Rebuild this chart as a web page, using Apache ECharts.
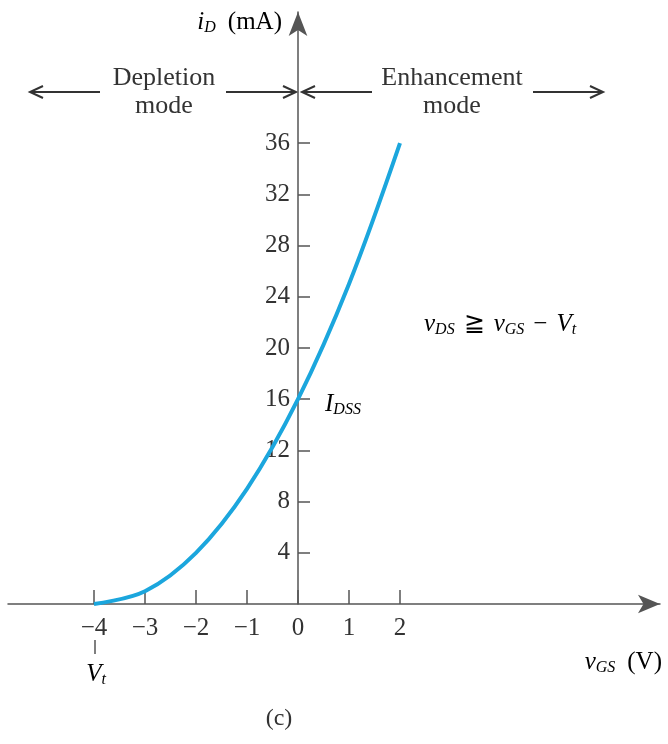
<!DOCTYPE html>
<html>
<head>
<meta charset="utf-8">
<script src="https://cdn.jsdelivr.net/npm/echarts@6/dist/echarts.min.js"></script>
<style>
  html, body { margin: 0; padding: 0; background: #fff; }
  #chart { width: 668px; height: 744px; }
</style>
</head>
<body>
<div id="chart"></div>
<script>
var chartDom = document.getElementById('chart');
var chart = echarts.init(chartDom);

// values
var vgs = [-4, -3, -2, -1, 0, 1, 2];
var iD = [0, 1, 4, 9, 16, 25, 36];
var xTicks = [-4, -3, -2, -1, 0, 1, 2];
var yTicks = [4, 8, 12, 16, 20, 24, 28, 32, 36];

var serif = '"Liberation Serif", "DejaVu Serif", serif';
var txt = '#333';
var axisCol = '#555';

// open chevron arrow, used for the mode annotations
function arrow(x1, x2, y, dir) {
  var tip = dir > 0 ? x2 : x1;
  return [
    { type: 'line', shape: { x1: x1, y1: y, x2: x2, y2: y }, style: { stroke: '#333', lineWidth: 2 } },
    { type: 'polyline', shape: { points: [[tip - dir * 13, y - 6], [tip, y], [tip - dir * 13, y + 6]] },
      style: { stroke: '#333', lineWidth: 2, fill: null } }
  ];
}

var rich = {
  it: { fontFamily: serif, fontStyle: 'italic', fontSize: 25, color: txt },
  n: { fontFamily: serif, fontSize: 25, color: txt },
  sp: { fontSize: 25, width: 12 },
  sp2: { fontSize: 25, width: 9 },
  sub: { fontFamily: serif, fontStyle: 'italic', fontSize: 16, color: txt, padding: [11, 0, 0, 0] }
};

var option = {
  animation: false,
  grid: { left: 8, right: 8, top: 12, bottom: 140, containLabel: false, outerBoundsMode: 'none' },
  xAxis: {
    type: 'value',
    min: -5.686,
    max: 7.098,
    axisLine: {
      onZero: true,
      symbol: ['none', 'arrow'],
      symbolSize: [14, 22],
      lineStyle: { color: axisCol, width: 1.5 }
    },
    axisTick: { show: true, inside: true, length: 14, customValues: xTicks, lineStyle: { color: axisCol, width: 1.5 } },
    axisLabel: {
      customValues: xTicks,
      margin: 12,
      fontFamily: serif,
      fontSize: 25,
      color: txt,
      formatter: function (v) { return String(v).replace('-', '\u2212'); }
    },
    splitLine: { show: false }
  },
  yAxis: {
    type: 'value',
    min: 0,
    max: 46.25,
    offset: -290,
    axisLine: {
      show: true,
      onZero: false,
      symbol: ['none', 'arrow'],
      symbolSize: [14, 24],
      lineStyle: { color: axisCol, width: 1.5 }
    },
    axisTick: { show: true, inside: true, length: 12, customValues: yTicks, lineStyle: { color: axisCol, width: 1.5 } },
    axisLabel: { customValues: yTicks, margin: 8, fontFamily: serif, fontSize: 25, color: txt },
    splitLine: { show: false }
  },
  series: [{
    type: 'line',
    data: vgs.map(function (v, i) { return [v, iD[i]]; }),
    smooth: 0.35,
    showSymbol: false,
    lineStyle: { color: '#1ba6dd', width: 4 }
  }],
  graphic: [].concat(
    arrow(30, 100, 92, -1),
    arrow(226, 296, 92, 1),
    arrow(302, 372, 92, -1),
    arrow(533, 603, 92, 1),
    [
      { type: 'text', x: 282, y: 22, style: { text: '{it|i}{sub|D}{sp| }{n|(mA)}', rich: rich, align: 'right', verticalAlign: 'middle' } },
      { type: 'text', x: 164, y: 92, style: { text: 'Depletion\nmode', fontFamily: serif, fontSize: 26, lineHeight: 28, fill: txt, align: 'center', verticalAlign: 'middle' } },
      { type: 'text', x: 452, y: 92, style: { text: 'Enhancement\nmode', fontFamily: serif, fontSize: 26, lineHeight: 28, fill: txt, align: 'center', verticalAlign: 'middle' } },
      { type: 'text', x: 424, y: 324, style: { text: '{it|v}{sub|DS}{sp2| }{n|\u2267}{sp2| }{it|v}{sub|GS}{sp2| }{n|\u2212}{sp2| }{it|V}{sub|t}', rich: rich, verticalAlign: 'middle' } },
      { type: 'text', x: 325, y: 404, style: { text: '{it|I}{sub|DSS}', rich: rich, verticalAlign: 'middle' } },
      { type: 'line', shape: { x1: 95, y1: 640, x2: 95, y2: 654 }, style: { stroke: axisCol, lineWidth: 1.5 } },
      { type: 'text', x: 96, y: 674, style: { text: '{it|V}{sub|t}', rich: rich, align: 'center', verticalAlign: 'middle' } },
      { type: 'text', x: 662, y: 662, style: { text: '{it|v}{sub|GS}{sp| }{n|(V)}', rich: rich, align: 'right', verticalAlign: 'middle' } },
      { type: 'text', x: 279, y: 719, style: { text: '(c)', fontFamily: serif, fontSize: 24, fill: txt, align: 'center', verticalAlign: 'middle' } }
    ]
  )
};

chart.setOption(option);
</script>
</body>
</html>
